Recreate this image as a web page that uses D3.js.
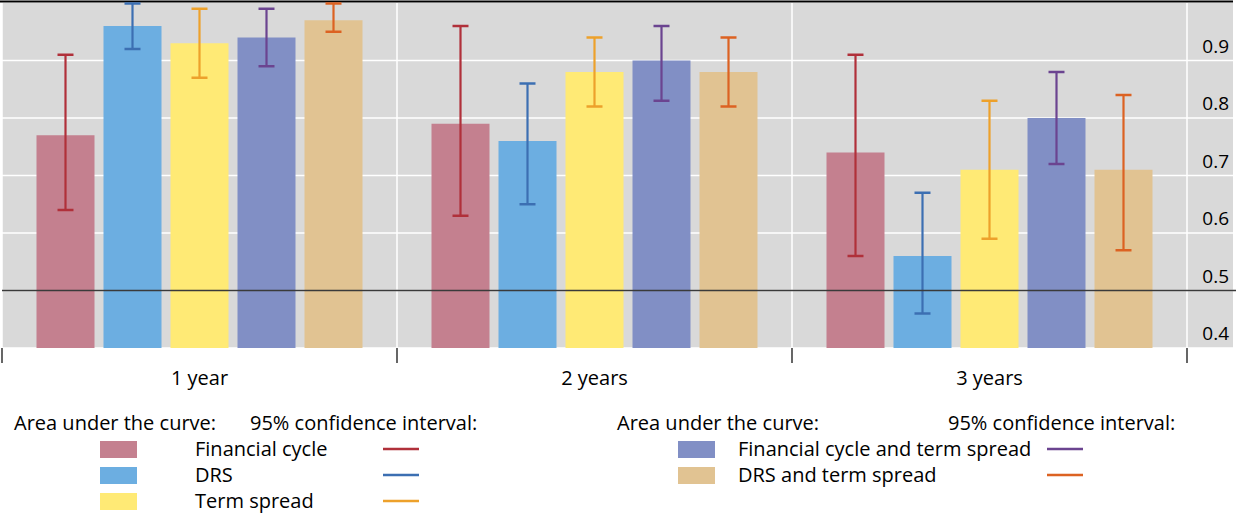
<!DOCTYPE html>
<html><head><meta charset="utf-8">
<script src="https://cdn.jsdelivr.net/npm/d3@7"></script>
<style>
html,body{margin:0;padding:0;background:#fff;}
text{font-family:"Open Sans","Noto Sans",sans-serif;fill:#000;}
</style></head>
<body>
<svg id="c" width="1236" height="515"></svg>
<script>
const categories = ["1 year", "2 years", "3 years"];
const seriesNames = ["Financial cycle", "DRS", "Term spread", "Financial cycle and term spread", "DRS and term spread"];
const aucFinancialCycle = [0.77, 0.79, 0.74];
const aucDRS = [0.96, 0.76, 0.56];
const aucTermSpread = [0.93, 0.88, 0.71];
const aucFCTerm = [0.94, 0.90, 0.80];
const aucDRSTerm = [0.97, 0.88, 0.71];
const ciLowFinancialCycle = [0.64, 0.63, 0.56];
const ciHighFinancialCycle = [0.91, 0.96, 0.91];
const ciLowDRS = [0.92, 0.65, 0.46];
const ciHighDRS = [1.00, 0.86, 0.67];
const ciLowTermSpread = [0.87, 0.82, 0.59];
const ciHighTermSpread = [0.99, 0.94, 0.83];
const ciLowFCTerm = [0.89, 0.83, 0.72];
const ciHighFCTerm = [0.99, 0.96, 0.88];
const ciLowDRSTerm = [0.95, 0.82, 0.57];
const ciHighDRSTerm = [1.00, 0.94, 0.84];
const yTicks = [0.4, 0.5, 0.6, 0.7, 0.8, 0.9];

const barColors = ["#C4808F", "#6CAEE1", "#FFEA75", "#818FC5", "#E1C392"];
const ciColors = ["#B0303A", "#3C6FB2", "#EDA12B", "#6B4490", "#DC6222"];

const values = [aucFinancialCycle, aucDRS, aucTermSpread, aucFCTerm, aucDRSTerm];
const lows = [ciLowFinancialCycle, ciLowDRS, ciLowTermSpread, ciLowFCTerm, ciLowDRSTerm];
const highs = [ciHighFinancialCycle, ciHighDRS, ciHighTermSpread, ciHighFCTerm, ciHighDRSTerm];

const svg = d3.select("#c");
const plotL = 2, plotR = 1233, catR = 1187, plotT = 3, plotB = 348;

const x0 = d3.scaleBand().domain(categories).range([plotL, catR]).paddingInner(0).paddingOuter(0);
const x1 = d3.scaleBand().domain(d3.range(5)).range([34.5, x0.bandwidth() - 34.5]).paddingInner(9/67).paddingOuter(0);
const y = d3.scaleLinear().domain([0.4, 1.0]).range([plotB, plotT]);

// background
svg.append("rect").attr("x", plotL).attr("y", plotT).attr("width", plotR - plotL).attr("height", plotB - plotT).attr("fill", "#D9D9D9");

// horizontal grid
svg.append("g").selectAll("line").data(yTicks).join("line")
  .attr("x1", plotL).attr("x2", plotR)
  .attr("y1", d => y(d)).attr("y2", d => y(d))
  .attr("stroke", "#fff").attr("stroke-width", 1.5);
// vertical grid
const bounds = categories.map(c => x0(c)).concat([catR]);
svg.append("g").selectAll("line").data(bounds).join("line")
  .attr("x1", d => d).attr("x2", d => d).attr("y1", plotT).attr("y2", plotB)
  .attr("stroke", "#fff").attr("stroke-width", 1.5);

// top border
svg.append("line").attr("x1", 0).attr("x2", plotR).attr("y1", 1.5).attr("y2", 1.5).attr("stroke", "#000").attr("stroke-width", 2);

// bars
const groups = svg.append("g").selectAll("g").data(categories).join("g")
  .attr("transform", c => `translate(${x0(c)},0)`);
groups.each(function(c, ci) {
  const g = d3.select(this);
  for (let s = 0; s < 5; s++) {
    const bx = x1(s), bw = x1.bandwidth();
    g.append("rect").attr("x", bx).attr("width", bw)
      .attr("y", y(values[s][ci])).attr("height", plotB - y(values[s][ci]))
      .attr("fill", barColors[s]);
  }
});
// reference line at 0.5
svg.append("line").attr("x1", plotL).attr("x2", 1236).attr("y1", y(0.5)).attr("y2", y(0.5))
  .attr("stroke", "#3a3a3a").attr("stroke-width", 1.5);
// error bars
groups.each(function(c, ci) {
  const g = d3.select(this);
  for (let s = 0; s < 5; s++) {
    const cx = x1(s) + x1.bandwidth() / 2;
    const yl = y(lows[s][ci]), yh = Math.max(y(highs[s][ci]), plotT + 0.5);
    const col = ciColors[s];
    g.append("line").attr("x1", cx).attr("x2", cx).attr("y1", yl).attr("y2", yh).attr("stroke", col).attr("stroke-width", 2.2);
    g.append("line").attr("x1", cx - 8).attr("x2", cx + 8).attr("y1", yl).attr("y2", yl).attr("stroke", col).attr("stroke-width", 2.5);
    g.append("line").attr("x1", cx - 8).attr("x2", cx + 8).attr("y1", yh).attr("y2", yh).attr("stroke", col).attr("stroke-width", 2.5);
  }
});

// y tick labels
svg.append("g").selectAll("text").data(yTicks).join("text")
  .attr("x", 1229).attr("y", d => y(d) - 8).attr("text-anchor", "end")
  .attr("font-size", 19).text(d => d3.format(".1f")(d));

// x ticks
svg.append("g").selectAll("line").data(bounds).join("line")
  .attr("x1", d => d).attr("x2", d => d).attr("y1", plotB).attr("y2", plotB + 15)
  .attr("stroke", "#000").attr("stroke-width", 1.2);
svg.append("g").selectAll("text").data(categories).join("text")
  .attr("x", c => x0(c) + x0.bandwidth() / 2).attr("y", 385).attr("text-anchor", "middle")
  .attr("font-size", 20).text(c => c);

// legend
const lg = svg.append("g");
const fs = 20;
lg.append("text").attr("x", 14).attr("y", 430).attr("font-size", fs).text("Area under the curve:");
lg.append("text").attr("x", 250).attr("y", 430).attr("font-size", fs).text("95% confidence interval:");
lg.append("text").attr("x", 617).attr("y", 430).attr("font-size", fs).text("Area under the curve:");
lg.append("text").attr("x", 948).attr("y", 430).attr("font-size", fs).text("95% confidence interval:");
const legItems = [
  {s: 0, sx: 100, tx: 195, lx: 383, row: 0},
  {s: 1, sx: 100, tx: 195, lx: 383, row: 1},
  {s: 2, sx: 100, tx: 195, lx: 383, row: 2},
  {s: 3, sx: 678, tx: 738, lx: 1047, row: 0},
  {s: 4, sx: 678, tx: 738, lx: 1047, row: 1}
];
legItems.forEach(it => {
  const cy = 449 + it.row * 26;
  lg.append("rect").attr("x", it.sx).attr("y", cy - 8).attr("width", 37).attr("height", 17).attr("fill", barColors[it.s]);
  lg.append("text").attr("x", it.tx).attr("y", cy + 7).attr("font-size", fs).text(seriesNames[it.s]);
  lg.append("line").attr("x1", it.lx).attr("x2", it.lx + 36).attr("y1", cy).attr("y2", cy).attr("stroke", ciColors[it.s]).attr("stroke-width", 2.5);
});
</script>
</body></html>
